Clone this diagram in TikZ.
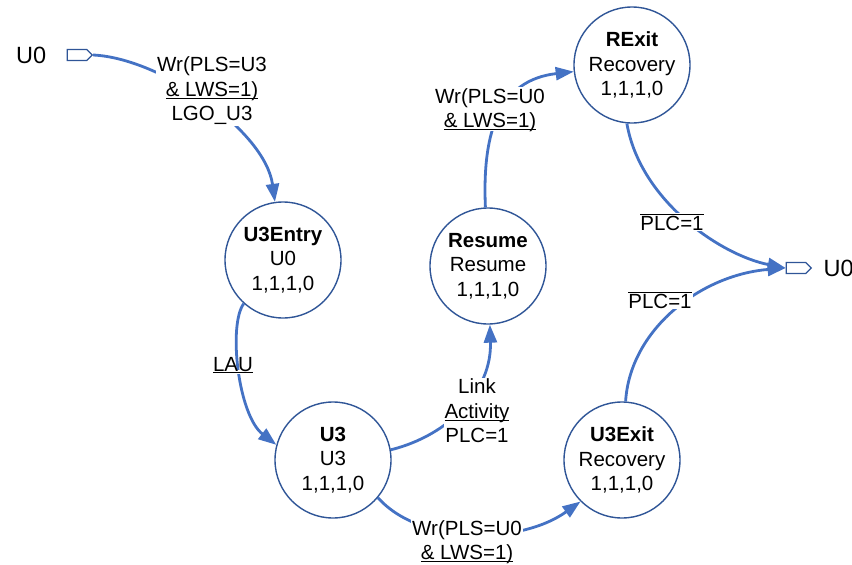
\documentclass[tikz,border=0pt]{standalone}
\usepackage{fontspec}
\setmainfont{Liberation Sans}
\usetikzlibrary{positioning,arrows.meta,shapes.symbols}
\definecolor{etatbord}{RGB}{47,85,151}
\definecolor{fleche}{RGB}{68,114,196}
\newcommand{\nonplc}{$\overline{\mbox{PLC=1}}$}
\newcommand{\souligne}[1]{\underline{\smash{#1}}}

\begin{document}
\begin{tikzpicture}[x=1pt, y=-1pt, font=\fontsize{20.5}{24.5}\selectfont,
		etat/.style={circle, draw=etatbord, line width=1.4pt, minimum size=116pt, inner sep=0pt, align=center, fill=white},
		trans/.style={draw=fleche, line width=2.8pt, -{Triangle[length=18pt,width=13pt]}},
		lbl/.style={fill=white, align=center, inner sep=1pt},
		port/.style={signal, signal to=east, draw=etatbord, line width=1.2pt, minimum width=25pt, minimum height=11pt, inner sep=0pt},
		nomport/.style={font=\fontsize{23.5}{28}\selectfont}]
	\useasboundingbox (0,0) rectangle (852,565);
	% etats
	\node[etat] (entree) at (283,260) {\textbf{U3Entry}\\U0\\1,1,1,0};
	\node[etat] (u3) at (333,460) {\textbf{U3}\\U3\\1,1,1,0};
	\node[etat] (reprise) at (488,266) {\textbf{Resume}\\Resume\\1,1,1,0};
	\node[etat] (rsortie) at (632,65) {\textbf{RExit}\\Recovery\\1,1,1,0};
	\node[etat] (u3sortie) at (622,460) {\textbf{U3Exit}\\Recovery\\1,1,1,0};
	% ports
	\node[port] (pin) at (77,55) {};
	\node[nomport, left=17pt of pin] (tin) {U0};
	\node[port] (pout) at (796,268) {};
	\node[nomport, right=8pt of pout] (tout) {U0};
	% transitions
	\draw[trans] (pin.east) .. controls (160,58) and (265,130) .. (entree);
	\draw[trans] (entree.228) .. controls (228,325) and (238,415) .. (u3.165);
	\draw[trans] (u3.10) .. controls (450,435) and (492,390) .. (reprise);
	\draw[trans] (reprise) .. controls (482,130) and (500,80) .. (rsortie);
	\draw[trans] (rsortie.265) .. controls (640,200) and (720,255) .. (pout.west);
	\draw[trans] (u3sortie) .. controls (630,330) and (700,275) .. (pout.west);
	\draw[trans] (u3.-40) .. controls (420,545) and (520,545) .. (u3sortie.225);
	% conditions
	\node[lbl] (c1) at (212,91) {Wr(PLS=U3\\\souligne{\& LWS=1)}\\LGO\_U3};
	\node[lbl] (c2) at (233,372) {\souligne{LAU}};
	\node[lbl] (c3) at (477,411) {Link\\\souligne{Activity}\\PLC=1};
	\node[lbl] (c4) at (490,109) {Wr(PLS=U0\\\souligne{\& LWS=1)}};
	\node[lbl] (c5) at (672,222) {\nonplc};
	\node[lbl] (c6) at (660,300) {\nonplc};
	\node[lbl] (c7) at (467,541) {Wr(PLS=U0\\\souligne{\& LWS=1)}};
\end{tikzpicture}
\end{document}
